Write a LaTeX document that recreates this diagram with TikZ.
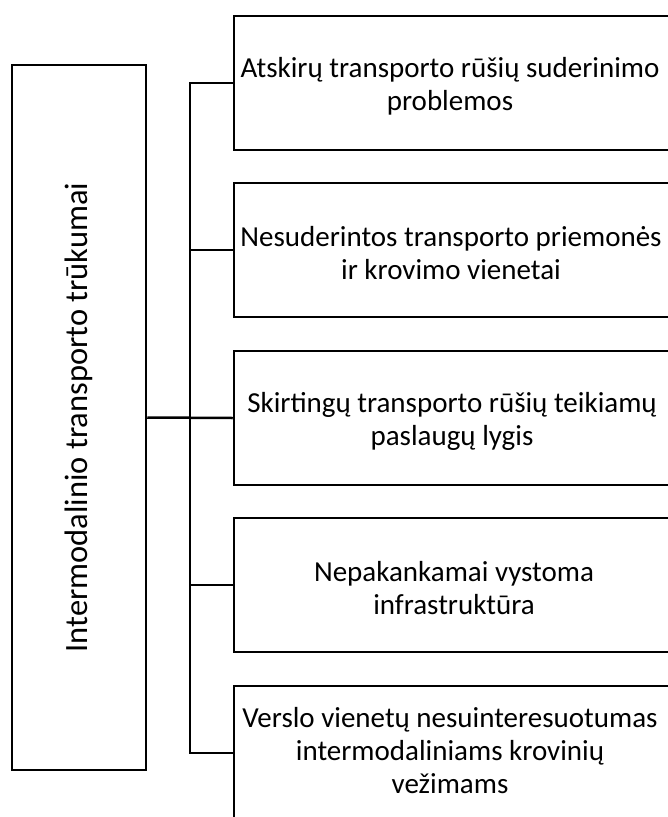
\documentclass[tikz,border=0pt]{standalone}
\usepackage{fontspec}
\setmainfont{Carlito}
\begin{document}
\begin{tikzpicture}[x=1pt,y=-1pt,
  frame/.style={draw, line width=2.5pt, rectangle, inner sep=0pt},
  itembox/.style={frame, minimum width=466, minimum height=134},
  itemtext/.style={align=center, inner sep=0pt, font=\fontsize{29}{33}\selectfont},
  wire/.style={line width=2.5pt}]
\useasboundingbox (0,0) rectangle (668,817);
\clip (0,0) rectangle (668,817);

% main category, written bottom to top
\node[frame, rotate=90, minimum width=705, minimum height=134,
      font=\fontsize{32.5}{36}\selectfont] (L) at (79,417.5)
  {Intermodalinio transporto trūkumai};

% the five shortcomings
\node[itembox] (b1) at (467,83) {};
\node[itembox] (b2) at (467,250) {};
\node[itembox] (b3) at (467,418) {};
\node[itembox] (b4) at (467,585) {};
\node[itembox] (b5) at (467,753) {};

\node[itemtext] (t1) at (450,86) {Atskirų transporto rūšių suderinimo\\problemos};
\node[itemtext] (t2) at (451,253) {Nesuderintos transporto priemonės\\ir krovimo vienetai};
\node[itemtext] (t3) at (452,421) {Skirtingų transporto rūšių teikiamų\\paslaugų lygis};
\node[itemtext] (t4) at (454,588) {Nepakankamai vystoma\\infrastruktūra};
\node[itemtext] (t5) at (450,751) {Verslo vienetų nesuinteresuotumas\\intermodaliniams krovinių\\vežimams};

% bracket joining the category to its items
\coordinate (j) at (190,0);
\draw[wire] (L.south) -- (b3.west);
\draw[wire] (b1.west) -- (b1.west -| j) -- (b5.west -| j) -- (b5.west);
\draw[wire] (b2.west) -- (b2.west -| j);
\draw[wire] (b4.west) -- (b4.west -| j);
\end{tikzpicture}
\end{document}
